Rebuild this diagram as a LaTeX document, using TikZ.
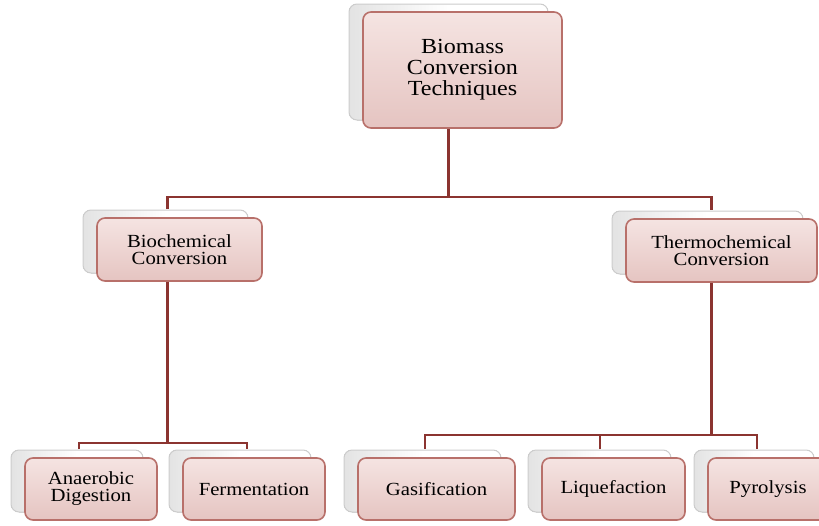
\documentclass[tikz,border=0pt]{standalone}
\usepackage{fontspec}
\setmainfont{Liberation Serif}[FakeStretch=1.12]
\usetikzlibrary{shadows}
\definecolor{boxtop}{RGB}{245,228,226}
\definecolor{boxbot}{RGB}{229,196,193}
\definecolor{boxedge}{RGB}{184,112,106}
\definecolor{linkred}{RGB}{139,52,48}
\tikzset{
	card/.style={draw=boxedge, line width=1.6pt, rounded corners=8pt,
		top color=boxtop, bottom color=boxbot, align=center, inner sep=0pt,
		copy shadow={shadow xshift=-14pt, shadow yshift=8pt, left color=gray!22, right color=white, middle color=white, draw=gray!40, line width=1pt}},
	bigtext/.style={font=\fontsize{21.5}{22}\selectfont},
	smalltext/.style={font=\fontsize{18.5}{17}\selectfont},
	link/.style={draw=linkred, line width=2.6pt, line join=miter},
}

\begin{document}
\begin{tikzpicture}[x=1pt,y=-1pt]
	\useasboundingbox (0,0) rectangle (819,525);
	% top level
	\node[card,bigtext,minimum width=199pt,minimum height=116pt] (top) at (462.5,70) {\raisebox{-4pt}{\begin{tabular}{@{}c@{}}Biomass\\[-1pt]Conversion\\[-1pt]Techniques\end{tabular}}};
	% second level
	\node[card,smalltext,minimum width=165pt,minimum height=63pt] (bio) at (179.5,249.5) {Biochemical\\Conversion};
	\node[card,smalltext,minimum width=191pt,minimum height=63pt] (thermo) at (721.5,250.5) {Thermochemical\\Conversion};
	% third level
	\node[card,smalltext,minimum width=132pt,minimum height=62pt] (ana) at (91,489) {Anaerobic\\Digestion};
	\node[card,smalltext,minimum width=142pt,minimum height=62pt] (ferm) at (254,489) {Fermentation};
	\node[card,smalltext,minimum width=157pt,minimum height=62pt] (gas) at (436.5,489) {Gasification};
	\node[card,smalltext,minimum width=143pt,minimum height=62pt] (liq) at (613.5,489) {Liquefaction};
	\node[card,smalltext,minimum width=120pt,minimum height=62pt] (pyr) at (768,489) {Pyrolysis};

	% connection points
	\coordinate (top-out) at ([xshift=-14pt]top.south);
	\coordinate (bio-in) at ([xshift=-12pt,yshift=8pt]bio.north);
	\coordinate (bio-out) at ([xshift=-12pt]bio.south);
	\coordinate (thermo-in) at ([xshift=-10pt,yshift=8pt]thermo.north);
	\coordinate (thermo-out) at ([xshift=-10pt]thermo.south);
	\coordinate (ana-in) at ([xshift=-12pt,yshift=8pt]ana.north);
	\coordinate (ferm-in) at ([xshift=-7pt,yshift=8pt]ferm.north);
	\coordinate (gas-in) at ([xshift=-11.5pt,yshift=8pt]gas.north);
	\coordinate (liq-in) at ([xshift=-13.5pt,yshift=8pt]liq.north);
	\coordinate (pyr-in) at ([xshift=-11pt,yshift=8pt]pyr.north);
	\coordinate (topbus) at (0,197);
	\coordinate (leftbus) at (0,443);
	\coordinate (rightbus) at (0,435);

	\draw[link] (top-out) -- (top-out |- topbus);
	\draw[link] (bio-in) -- (bio-in |- topbus) -- (thermo-in |- topbus) -- (thermo-in);
	\draw[link] (bio-out) -- (bio-out |- leftbus);
	\draw[link] (ana-in) -- (ana-in |- leftbus) -- (ferm-in |- leftbus) -- (ferm-in);
	\draw[link] (thermo-out) -- (thermo-out |- rightbus);
	\draw[link] (gas-in) -- (gas-in |- rightbus) -- (pyr-in |- rightbus) -- (pyr-in);
	\draw[link] (liq-in) -- (liq-in |- rightbus);
\end{tikzpicture}
\end{document}
